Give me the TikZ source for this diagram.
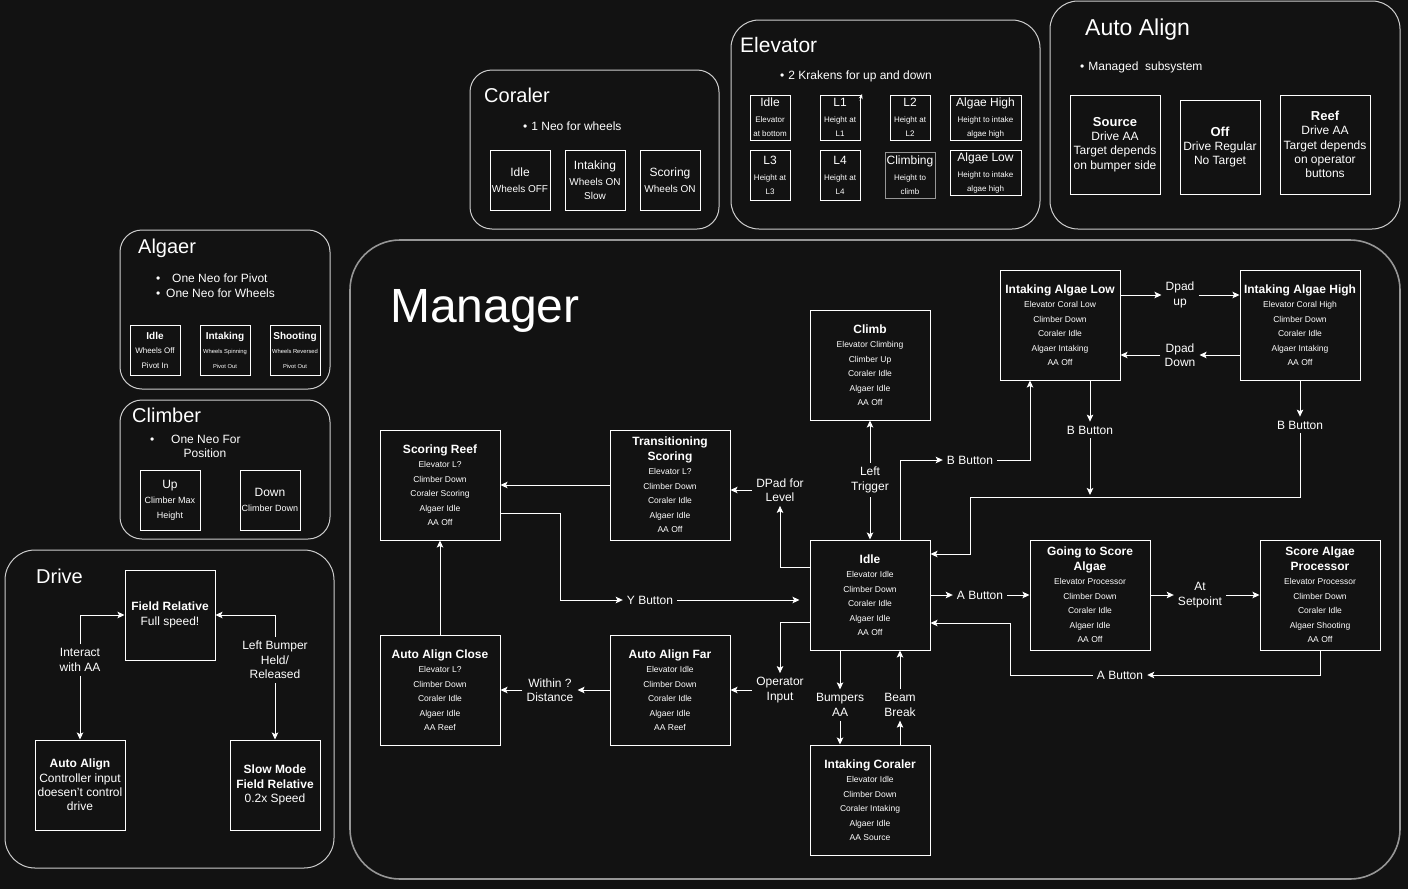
\documentclass[tikz,border=0pt]{standalone}
\usepackage{fontspec}
\setmainfont{Liberation Sans}
\usetikzlibrary{arrows.meta,calc}
\definecolor{bg}{RGB}{18,18,18}
\definecolor{cont}{RGB}{205,205,205}
\definecolor{mgr}{RGB}{150,150,150}
\definecolor{greyline}{RGB}{150,150,150}
\newcommand{\fs}[2]{\fontsize{#1}{#2}\selectfont}
\newcommand{\mtitle}[1]{{\fontsize{12}{14.5}\selectfont\bfseries #1}}
\begin{document}
\begin{tikzpicture}[x=1pt,y=-1pt,
  cbox/.style={draw=cont,line width=1pt,fill=bg},
  mbox/.style={draw=white,line width=1pt,fill=bg,minimum width=120pt,minimum height=110pt,inner sep=0pt,align=center,text=white,font=\fs{8.5}{14.5}},
  sbox/.style={draw=white,line width=1pt,fill=bg,inner sep=0pt,align=center,text=white},
  elab/.style={text=white,align=center,font=\fs{12}{14.5},inner sep=4pt},
  arr/.style={draw=white,line width=1pt,-{Stealth[length=7pt,width=6.5pt,inset=1.5pt]}},
  ttl/.style={text=white,anchor=base west,inner sep=0pt},
  bul/.style={text=white,anchor=base west,inner sep=0pt,font=\fs{12}{14}},
]
\useasboundingbox (0,0) rectangle (1408,889);
\fill[bg] (0,0) rectangle (1408,889);

% ---------- containers ----------
\draw[cbox,rounded corners=22pt] (470,70) rectangle (719,229);
\draw[cbox,rounded corners=28pt] (731,20) rectangle (1040,229);
\draw[cbox,rounded corners=28pt] (1050,1) rectangle (1400,229);
\draw[cbox,rounded corners=22pt] (120,230) rectangle (330,389);
\draw[cbox,rounded corners=22pt] (120,400) rectangle (330,539);
\draw[cbox,rounded corners=30pt] (5,550) rectangle (334,868);
\draw[draw=mgr,line width=1.6pt,fill=bg,rounded corners=50pt] (350,240) rectangle (1400,879);

% ---------- Coraler ----------
\node[ttl,font=\fs{20}{20}] (tcor) at (484,102) {Coraler};
\node[bul] (bcor) at (523,130) {•\hspace{4pt}1 Neo for wheels};
\node[sbox,minimum width=60pt,minimum height=60pt,font=\fs{10}{14}] (cidle) at (520,180) {{\fs{12}{14}Idle}\\[2pt]Wheels OFF};
\node[sbox,minimum width=60pt,minimum height=60pt,font=\fs{10}{14}] (cint) at (595,180) {{\fs{12}{14}Intaking}\\[2pt]Wheels ON\\Slow};
\node[sbox,minimum width=60pt,minimum height=60pt,font=\fs{10}{14}] (cscore) at (670,180) {{\fs{12}{14}Scoring}\\[2pt]Wheels ON};

% ---------- Elevator ----------
\node[ttl,font=\fs{21}{21}] (tele) at (740,52.5) {Elevator};
\node[bul] (bele) at (780,79) {•\hspace{4pt}2 Krakens for up and down};
\node[sbox,minimum width=40pt,minimum height=45pt,font=\fs{8}{14}] (eidle) at (770,117.5) {{\fs{12}{14}Idle}\\[2pt]Elevator\\at bottom};
\node[sbox,minimum width=40pt,minimum height=45pt,font=\fs{8}{14}] (el1) at (840,117.5) {{\fs{12}{14}L1}\\[2pt]Height at\\L1};
\node[sbox,minimum width=40pt,minimum height=45pt,font=\fs{8}{14}] (el2) at (910,117.5) {{\fs{12}{14}L2}\\[2pt]Height at\\L2};
\node[sbox,minimum width=71pt,minimum height=45pt,font=\fs{8}{14}] (ehigh) at (985.5,117.5) {{\fs{12}{14}Algae High}\\[2pt]Height to intake\\algae high};
\node[sbox,minimum width=40pt,minimum height=50pt,font=\fs{8}{14}] (el3) at (770,175) {{\fs{12}{14}L3}\\[2pt]Height at\\L3};
\node[sbox,minimum width=40pt,minimum height=50pt,font=\fs{8}{14}] (el4) at (840,175) {{\fs{12}{14}L4}\\[2pt]Height at\\L4};
\node[sbox,draw=greyline,minimum width=50pt,minimum height=46pt,font=\fs{8}{14}] (eclimb) at (910,175) {{\fs{12}{14}Climbing}\\[2pt]Height to\\climb};
\node[sbox,minimum width=71pt,minimum height=45pt,font=\fs{8}{14}] (elow) at (985.5,172.5) {{\fs{12}{14}Algae Low}\\[2pt]Height to intake\\algae high};
\coordinate (stA) at (860,101);
\coordinate (stB) at (862,94);
\draw[white,line width=0.8pt,-{Stealth[length=5pt,width=4pt]}] (stA) -- (stB);

% ---------- Auto Align ----------
\node[ttl,font=\fs{23}{23}] (taa) at (1085,35) {Auto Align};
\node[bul] (baa) at (1080,70) {•\hspace{4pt}Managed\ \ subsystem};
\node[sbox,minimum width=90pt,minimum height=99pt,font=\fs{12}{14.3}] (asrc) at (1115,144.5) {{\fs{13}{14.3}\bfseries Source}\\Drive AA\\Target depends\\on bumper side};
\node[sbox,minimum width=80pt,minimum height=94pt,font=\fs{12}{14.3}] (aoff) at (1220,147) {{\fs{13}{14.3}\bfseries Off}\\Drive Regular\\No Target};
\node[sbox,minimum width=90pt,minimum height=99pt,font=\fs{12}{14.3}] (areef) at (1325,144.5) {{\fs{13}{14.3}\bfseries Reef}\\Drive AA\\Target depends\\on operator\\buttons};

% ---------- Algaer ----------
\node[ttl,font=\fs{20}{20}] (talg) at (138,253) {Algaer};
\node[bul] (balg1) at (156,282) {•};
\node[bul] (talg1) at (172,282) {One Neo for Pivot};
\node[bul] (balg2) at (156,297.5) {•};
\node[bul] (talg2) at (166,297.5) {One Neo for Wheels};
\node[sbox,minimum width=50pt,minimum height=50pt,font=\fs{8}{14.5}] (aidle) at (155,350) {{\fs{10}{14.5}\bfseries Idle}\\Wheels Off\\Pivot In};
\node[sbox,minimum width=50pt,minimum height=50pt,font=\fs{5.8}{14.5}] (aint) at (225,350) {{\fs{10}{14.5}\bfseries Intaking}\\Wheels Spinning\\Pivot Out};
\node[sbox,minimum width=50pt,minimum height=50pt,font=\fs{5.8}{14.5}] (ashoot) at (295,350) {{\fs{10}{14.5}\bfseries Shooting}\\Wheels Reversed\\Pivot Out};

% ---------- Climber ----------
\node[ttl,font=\fs{20}{20}] (tcl) at (132,422) {Climber};
\node[bul] (bcl) at (150,443) {•};
\node[bul] (tcl1) at (171,443) {One Neo For};
\node[text=white,font=\fs{12}{14},inner sep=0pt,anchor=base] (tcl2) at (205,457) {Position};
\node[sbox,minimum width=60pt,minimum height=60pt,font=\fs{9}{14.5}] (cup) at (170,500) {{\fs{12}{14}Up}\\[1pt]Climber Max\\Height};
\node[sbox,minimum width=60pt,minimum height=60pt,font=\fs{9}{14.5}] (cdown) at (270,500) {{\fs{12}{14}Down}\\[1pt]Climber Down};

% ---------- Drive ----------
\node[ttl,font=\fs{20}{20}] (tdr) at (36,583) {Drive};
\node[sbox,minimum width=90pt,minimum height=90pt,font=\fs{12}{14.3}] (fr) at (170,615) {\textbf{Field Relative}\\Full speed!};
\node[sbox,minimum width=90pt,minimum height=90pt,font=\fs{12}{14.3}] (daa) at (80,785) {\textbf{Auto Align}\\Controller input\\doesen't control\\drive};
\node[sbox,minimum width=90pt,minimum height=90pt,font=\fs{12}{14.3}] (slow) at (275,785) {\textbf{Slow Mode}\\\textbf{Field Relative}\\0.2x Speed};
\node[elab] (ia) at (80,660) {Interact\\with AA};
\node[elab] (lb) at (275,660) {Left Bumper\\Held/\\Released};
\draw[arr] (ia.north) |- (fr.west);
\draw[arr] (ia.south) -- (daa.north);
\draw[arr] (lb.north) |- (fr.east);
\draw[arr] (lb.south) -- (slow.north);

% ---------- Manager ----------
\node[ttl,font=\fs{48}{48}] (tmgr) at (390,322) {Manager};

\node[mbox] (climb) at (870,365) {\mtitle{Climb}\\Elevator Climbing\\Climber Up\\Coraler Idle\\Algaer Idle\\AA Off};
\node[mbox] (sreef) at (440,485) {\mtitle{Scoring Reef}\\Elevator L?\\Climber Down\\Coraler Scoring\\Algaer Idle\\AA Off};
\node[mbox] (trans) at (670,485) {\mtitle{Transitioning}\\\mtitle{Scoring}\\Elevator L?\\Climber Down\\Coraler Idle\\Algaer Idle\\AA Off};
\node[mbox] (idle) at (870,595) {\mtitle{Idle}\\Elevator Idle\\Climber Down\\Coraler Idle\\Algaer Idle\\AA Off};
\node[mbox] (ialow) at (1060,325) {\mtitle{Intaking Algae Low}\\Elevator Coral Low\\Climber Down\\Coraler Idle\\Algaer Intaking\\AA Off};
\node[mbox] (iahigh) at (1300,325) {\mtitle{Intaking Algae High}\\Elevator Coral High\\Climber Down\\Coraler Idle\\Algaer Intaking\\AA Off};
\node[mbox] (gsa) at (1090,595) {\mtitle{Going to Score}\\\mtitle{Algae}\\Elevator Processor\\Climber Down\\Coraler Idle\\Algaer Idle\\AA Off};
\node[mbox] (sap) at (1320,595) {\mtitle{Score Algae}\\\mtitle{Processor}\\Elevator Processor\\Climber Down\\Coraler Idle\\Algaer Shooting\\AA Off};
\node[mbox] (aac) at (440,690) {\mtitle{Auto Align Close}\\Elevator L?\\Climber Down\\Coraler Idle\\Algaer Idle\\AA Reef};
\node[mbox] (aaf) at (670,690) {\mtitle{Auto Align Far}\\Elevator Idle\\Climber Down\\Coraler Idle\\Algaer Idle\\AA Reef};
\node[mbox] (icor) at (870,800) {\mtitle{Intaking Coraler}\\Elevator Idle\\Climber Down\\Coraler Intaking\\Algaer Idle\\AA Source};

% edge labels
\node[elab] (lt) at (870,480) {Left\\Trigger};
\node[elab] (dpl) at (780,490) {DPad for\\Level};
\node[elab] (yb) at (650,600) {Y Button};
\node[elab] (bb1) at (970,460) {B Button};
\node[elab] (dup) at (1180,295) {Dpad\\up};
\node[elab] (ddn) at (1180,355) {Dpad\\Down};
\node[elab] (bbl) at (1090,430) {B Button};
\node[elab] (bbh) at (1300,425) {B Button};
\node[elab] (ab1) at (980,595) {A Button};
\node[elab] (ats) at (1200,595) {At\\Setpoint};
\node[elab] (ab2) at (1120,675) {A Button};
\node[elab] (opi) at (780,690) {Operator\\Input};
\node[elab] (wd) at (550,690) {Within ?\\Distance};
\node[elab] (bma) at (840,705) {Bumpers\\AA};
\node[elab] (bbk) at (900,705) {Beam\\Break};

% junction coordinates
\coordinate (yj) at (560,600);
\coordinate (bj1) at (1300,497);
\coordinate (bj2) at (970,497);
\coordinate (bmerge) at (1090,495);
\coordinate (aj) at (1010,675);

% connectors
\draw[arr] (lt.north) -- (climb.south);
\draw[arr] (lt.south) -- (idle.north);
\draw[arr] ([yshift=28pt]idle.west) -| (dpl.south);
\draw[arr] (dpl.west) -- (dpl.west -| trans.east);
\draw[arr] (trans.west) -- (sreef.east);
\draw[arr] ([yshift=-28pt]sreef.east) -| (yj) -- (yb.west);
\draw[arr,shorten >=10pt] (yb.east) -- (yb.east -| idle.west);
\draw[arr] ([xshift=30pt]idle.north) |- (bb1.west);
\draw[arr] (bb1.east) -| ([xshift=-30pt]ialow.south);
\draw[arr] (dup.west -| ialow.east) -- (dup.west);
\draw[arr] (dup.east) -- (dup.east -| iahigh.west);
\draw[arr] (ddn.east -| iahigh.west) -- (ddn.east);
\draw[arr] (ddn.west) -- (ddn.west -| ialow.east);
\draw[arr] ([xshift=30pt]ialow.south) -- (bbl.north);
\draw[arr] (bbl.south) -- (bmerge);
\draw[arr] (iahigh.south) -- (bbh.north);
\draw[arr] (bbh.south) -- (bj1) -- (bj2) |- ([yshift=41pt]idle.east);
\draw[arr] (idle.east) -- (ab1.west);
\draw[arr] (ab1.east) -- (gsa.west);
\draw[arr] (gsa.east) -- (ats.west);
\draw[arr] (ats.east) -- (sap.west);
\draw[arr] (sap.south) |- (ab2.east);
\draw[arr] (ab2.west) -- (aj) |- ([yshift=-28pt]idle.east);
\draw[arr] ([yshift=-27pt]idle.west) -| (opi.north);
\draw[arr] (opi.west) -- (opi.west -| aaf.east);
\draw[arr] (aaf.west) -- (wd.east);
\draw[arr] (wd.west) -- (aac.east);
\draw[arr] (aac.north) -- (sreef.south);
\draw[arr] ([xshift=-30pt]idle.south) -- (bma.north);
\draw[arr] (bma.south) -- ([xshift=-30pt]icor.north);
\draw[arr] ([xshift=30pt]icor.north) -- (bbk.south);
\draw[arr] (bbk.north) -- ([xshift=30pt]idle.south);
\end{tikzpicture}
\end{document}
